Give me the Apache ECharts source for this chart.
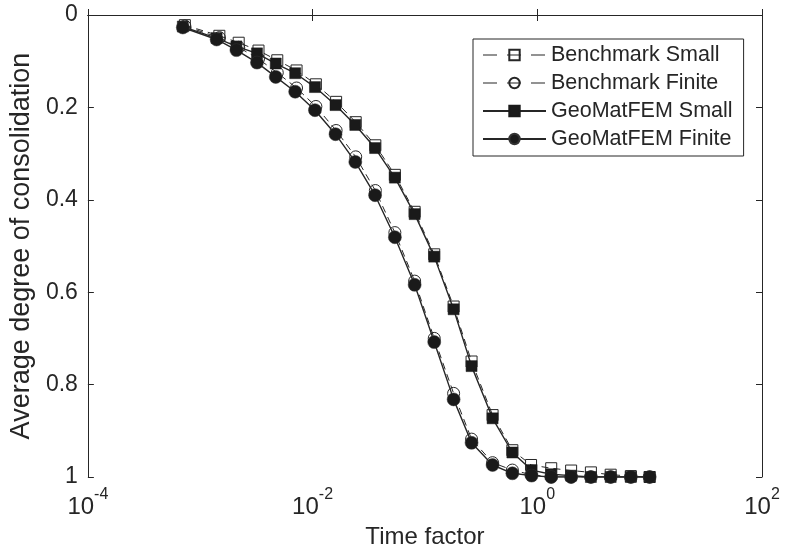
<!DOCTYPE html>
<html>
<head>
<meta charset="utf-8">
<script src="https://cdn.jsdelivr.net/npm/echarts@6/dist/echarts.min.js"></script>
<style>html,body{margin:0;padding:0;background:#fff;}#c{width:785px;height:558px;}</style>
</head>
<body>
<div id="c"></div>
<script>
// Time factors (x) for the GeoMatFEM runs and for the benchmark solutions
var geoTimes = [7.0e-4, 1.4e-3, 2.1e-3, 3.2e-3, 4.7e-3, 7.0e-3, 1.05e-2, 1.6e-2, 2.4e-2, 3.6e-2, 5.4e-2, 8.1e-2, 0.121, 0.18, 0.26, 0.40, 0.60, 0.89, 1.33, 2.0, 3.0, 4.5, 6.8, 10];
var benchTimes = [7.3e-4, 1.48e-3, 2.2e-3, 3.3e-3, 4.85e-3, 7.2e-3, 1.07e-2, 1.62e-2, 2.42e-2, 3.62e-2, 5.4e-2, 8.1e-2, 0.121, 0.18, 0.26, 0.40, 0.60, 0.88, 1.33, 2.0, 3.0, 4.5, 6.8, 10];
// Average degree of consolidation (y)
var benchSmall  = [0.022, 0.045, 0.060, 0.077, 0.098, 0.120, 0.150, 0.188, 0.232, 0.282, 0.346, 0.426, 0.518, 0.631, 0.750, 0.866, 0.942, 0.974, 0.981, 0.986, 0.990, 0.995, 0.998, 1.0];
var benchFinite = [0.024, 0.049, 0.070, 0.095, 0.125, 0.158, 0.198, 0.250, 0.307, 0.380, 0.471, 0.576, 0.700, 0.819, 0.918, 0.969, 0.985, 0.995, 1.0, 1.0, 1.0, 1.0, 1.0, 1.0];
var geoSmall    = [0.025, 0.050, 0.068, 0.083, 0.105, 0.126, 0.156, 0.195, 0.238, 0.288, 0.352, 0.431, 0.523, 0.637, 0.760, 0.873, 0.947, 0.985, 0.994, 0.997, 1.0, 1.0, 1.0, 1.0];
var geoFinite   = [0.027, 0.053, 0.076, 0.103, 0.134, 0.166, 0.206, 0.258, 0.318, 0.390, 0.481, 0.584, 0.708, 0.832, 0.926, 0.974, 0.992, 0.997, 1.0, 1.0, 1.0, 1.0, 1.0, 1.0];
var seriesNames = ['Benchmark Small', 'Benchmark Finite', 'GeoMatFEM Small', 'GeoMatFEM Finite'];
var xTickExps = [-4, -2, 0, 2];
var yTicks = [0, 0.2, 0.4, 0.6, 0.8, 1];

function pairs(xs, ys) { return xs.map(function (x, i) { return [x, ys[i]]; }); }

var ink = '#262626';
var font = 'Liberation Sans, Arial, Helvetica, sans-serif';
var clear = 'rgba(255,255,255,0)';

var chart = echarts.init(document.getElementById('c'), null, {renderer: 'canvas'});

var xAxisBase = {
  type: 'log', logBase: 10, min: Math.pow(10, xTickExps[0]), max: Math.pow(10, xTickExps[xTickExps.length - 1]),
  interval: 2,
  axisLine: {show: true, lineStyle: {color: ink, width: 1}},
  axisTick: {show: true, inside: true, length: 6, lineStyle: {color: ink}},
  splitLine: {show: false}, minorTick: {show: false}
};
var yAxisBase = {
  type: 'value', min: yTicks[0], max: yTicks[yTicks.length - 1], interval: 0.2, inverse: true,
  axisLine: {show: true, lineStyle: {color: ink, width: 1}},
  axisTick: {show: true, inside: true, length: 6, lineStyle: {color: ink}},
  splitLine: {show: false}
};

var option = {
  backgroundColor: '#fff',
  animation: false,
  grid: {left: 85, right: 23, top: 15, bottom: 81, containLabel: false},
  xAxis: [
    Object.assign({}, xAxisBase, {
      position: 'bottom',
      name: 'Time factor', nameLocation: 'middle', nameGap: 48,
      nameTextStyle: {fontFamily: font, fontSize: 24, color: ink},
      axisLabel: {
        margin: 10, color: ink,
        formatter: function (v) {
          var e = Math.round(Math.log10(v));
          return '{b|10}{s|' + e + '}';
        },
        rich: {
          b: {fontFamily: font, fontSize: 24, color: ink, verticalAlign: 'bottom', lineHeight: 32},
          s: {fontFamily: font, fontSize: 16, color: ink, verticalAlign: 'top', lineHeight: 32, padding: [0, 0, 0, 0]}
        }
      }
    }),
    Object.assign({}, xAxisBase, {position: 'top', axisLabel: {show: false}})
  ],
  yAxis: [
    Object.assign({}, yAxisBase, {
      position: 'left',
      name: 'Average degree of consolidation', nameLocation: 'middle', nameGap: 52, nameRotate: 90,
      nameTextStyle: {fontFamily: font, fontSize: 27, color: ink},
      axisLabel: {
        margin: 10, color: ink, fontFamily: font, fontSize: 23,
        formatter: function (v) { return String(Math.round(v * 10) / 10); }
      }
    }),
    Object.assign({}, yAxisBase, {position: 'right', axisLabel: {show: false}})
  ],
  legend: {
    orient: 'vertical', left: 473, top: 39,
    data: [
      {name: seriesNames[0], lineStyle: {type: [14, 10], width: 1.2, color: ink}},
      {name: seriesNames[1], lineStyle: {type: [14, 10], width: 1.2, color: ink}},
      {name: seriesNames[2]},
      {name: seriesNames[3]}
    ],
    backgroundColor: '#fff', borderColor: ink, borderWidth: 1,
    padding: [5, 11, 6, 9], itemGap: 6, itemWidth: 63, itemHeight: 13,
    textStyle: {fontFamily: font, fontSize: 21.5, lineHeight: 22, color: ink}
  },
  series: [
    {
      name: seriesNames[0], type: 'line', data: pairs(benchTimes, benchSmall),
      symbol: 'rect', symbolSize: 11, z: 2,
      lineStyle: {color: ink, width: 1, type: [7, 5]},
      itemStyle: {color: clear, borderColor: ink, borderWidth: 1}
    },
    {
      name: seriesNames[1], type: 'line', data: pairs(benchTimes, benchFinite),
      symbol: 'circle', symbolSize: 12, z: 2,
      lineStyle: {color: ink, width: 1, type: [7, 5]},
      itemStyle: {color: clear, borderColor: ink, borderWidth: 1}
    },
    {
      name: seriesNames[2], type: 'line', data: pairs(geoTimes, geoSmall),
      symbol: 'rect', symbolSize: 11, z: 3,
      lineStyle: {color: ink, width: 1.4},
      itemStyle: {color: '#1a1a1a', borderColor: '#1a1a1a', borderWidth: 0.5}
    },
    {
      name: seriesNames[3], type: 'line', data: pairs(geoTimes, geoFinite),
      symbol: 'circle', symbolSize: 13, z: 3,
      lineStyle: {color: ink, width: 1.4},
      itemStyle: {color: '#1a1a1a', borderColor: '#333', borderWidth: 0.5}
    }
  ]
};
chart.setOption(option);
</script>
</body>
</html>
